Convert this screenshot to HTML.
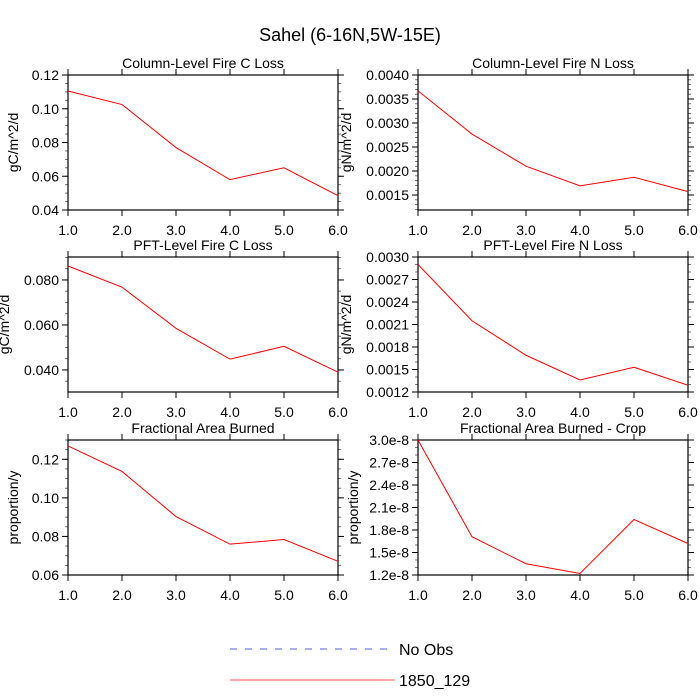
<!DOCTYPE html>
<html><head><meta charset="utf-8"><style>
html,body{margin:0;padding:0;background:#fff;}
svg{display:block;font-family:"Liberation Sans",Arial,sans-serif;}
</style></head><body>
<svg id="chart" width="700" height="700" viewBox="0 0 700 700" xmlns="http://www.w3.org/2000/svg">
<text x="350" y="41" font-size="18" text-anchor="middle">Sahel (6-16N,5W-15E)</text>
<g>
<line x1="230" y1="649" x2="390" y2="649" stroke="#5a5ae0" stroke-width="1" stroke-dasharray="7,8"/>
<text x="399" y="655" font-size="16">No Obs</text>
<line x1="230" y1="680" x2="395" y2="680" stroke="#ff5050" stroke-width="1"/>
<text x="399" y="686" font-size="16">1850_129</text>
</g>
</svg>
<script>
const categories = [1, 2, 3, 4, 5, 6];
const xTickLabels = ["1.0","2.0","3.0","4.0","5.0","6.0"];
const colCLoss = [0.1105, 0.1025, 0.077, 0.058, 0.065, 0.0485];
const colNLoss = [0.00367, 0.00277, 0.0021, 0.00169, 0.00187, 0.00157];
const pftCLoss = [0.0862, 0.0768, 0.0585, 0.0448, 0.0505, 0.039];
const pftNLoss = [0.0029, 0.00215, 0.00169, 0.00136, 0.00153, 0.00129];
const areaBurned = [0.1269, 0.1137, 0.0903, 0.076, 0.0784, 0.0671];
const areaBurnedCrop = [3.0e-8, 1.71e-8, 1.35e-8, 1.22e-8, 1.94e-8, 1.62e-8];
const yTicks1 = ["0.04","0.06","0.08","0.10","0.12"];
const yTicks2 = ["0.0015","0.0020","0.0025","0.0030","0.0035","0.0040"];
const yTicks3 = ["0.040","0.060","0.080"];
const yTicks4 = ["0.0012","0.0015","0.0018","0.0021","0.0024","0.0027","0.0030"];
const yTicks5 = ["0.06","0.08","0.10","0.12"];
const yTicks6 = ["1.2e-8","1.5e-8","1.8e-8","2.1e-8","2.4e-8","2.7e-8","3.0e-8"];

const NS="http://www.w3.org/2000/svg";
const svg=document.getElementById('chart');
function mk(tag,attrs,parent){const e=document.createElementNS(NS,tag);for(const k in attrs)e.setAttribute(k,attrs[k]);parent.appendChild(e);return e;}

const panels=[
 {name:'column-fire-c-loss',title:'Column-Level Fire C Loss',ylab:'gC/m^2/d',data:colCLoss,ticks:yTicks1,min:0.04,max:0.12,minor:0.005,x:68,y:75,lo:55},
 {name:'column-fire-n-loss',title:'Column-Level Fire N Loss',ylab:'gN/m^2/d',data:colNLoss,ticks:yTicks2,min:0.001188,max:0.0040,minor:0.0001,x:418,y:75,lo:72},
 {name:'pft-fire-c-loss',title:'PFT-Level Fire C Loss',ylab:'gC/m^2/d',data:pftCLoss,ticks:yTicks3,min:0.0302,max:0.0902,minor:0.005,x:68,y:257,lo:64},
 {name:'pft-fire-n-loss',title:'PFT-Level Fire N Loss',ylab:'gN/m^2/d',data:pftNLoss,ticks:yTicks4,min:0.0012,max:0.0030,minor:0.0001,x:418,y:257,lo:72},
 {name:'fractional-area-burned',title:'Fractional Area Burned',ylab:'proportion/y',data:areaBurned,ticks:yTicks5,min:0.06,max:0.13,minor:0.005,x:68,y:440,lo:55},
 {name:'fractional-area-burned-crop',title:'Fractional Area Burned - Crop',ylab:'proportion/y',data:areaBurnedCrop,ticks:yTicks6,min:1.2e-8,max:3.0e-8,minor:0.1e-8,x:418,y:440,lo:65}
];
const W=270,H=135;
panels.forEach(p=>{
 const g=mk('g',{},svg);
 
 
 const xs=v=>p.x+(v-1)/5*W;
 const ys=v=>p.y+H-(v-p.min)/(p.max-p.min)*H;
 const t=mk('text',{x:p.x+W/2,y:p.y-7,'font-size':14,'text-anchor':'middle'},g);
 t.textContent=p.title;
 
 
 const yl=mk('text',{transform:`translate(${p.x-p.lo+5},${p.y+H/2}) rotate(-90)`,'font-size':14,'text-anchor':'middle'},g);
 yl.textContent=p.ylab;
 
 
 const start=Math.ceil(p.min/p.minor-1e-6);
 for(let k=start;k*p.minor<=p.max+1e-12;k++){
  const yy=ys(k*p.minor);
  mk('line',{x1:p.x-3,y1:yy,x2:p.x,y2:yy,stroke:'#555','stroke-width':0.8},g);
  mk('line',{x1:p.x+W,y1:yy,x2:p.x+W+3,y2:yy,stroke:'#555','stroke-width':0.8},g);
 }
 p.ticks.forEach(lbl=>{
  const yy=ys(parseFloat(lbl));
  mk('line',{x1:p.x-6,y1:yy,x2:p.x,y2:yy,stroke:'#000','stroke-width':1},g);
  mk('line',{x1:p.x+W,y1:yy,x2:p.x+W+6,y2:yy,stroke:'#000','stroke-width':1},g);
  const tt=mk('text',{x:p.x-9,y:yy+5,'font-size':14,'text-anchor':'end'},g);
  tt.textContent=lbl;
  
  
 });
 categories.forEach((c,i)=>{
  const xx=xs(c);
  mk('line',{x1:xx,y1:p.y+H,x2:xx,y2:p.y+H+6,stroke:'#000','stroke-width':1},g);
  mk('line',{x1:xx,y1:p.y-6,x2:xx,y2:p.y,stroke:'#000','stroke-width':1},g);
  const tt=mk('text',{x:xx,y:p.y+H+25,'font-size':14,'text-anchor':'middle'},g);
  tt.textContent=xTickLabels[i];
  
  
 });
 const fr=mk('rect',{x:p.x,y:p.y,width:W,height:H,fill:'none',stroke:'#000','stroke-width':1.2},g);
 
 
 const pts=p.data.map((v,i)=>xs(categories[i])+','+ys(v)).join(' ');
 const ln=mk('polyline',{points:pts,fill:'none',stroke:'#ff0000','stroke-width':1},g);
 
 
});
</script>
</body></html>
